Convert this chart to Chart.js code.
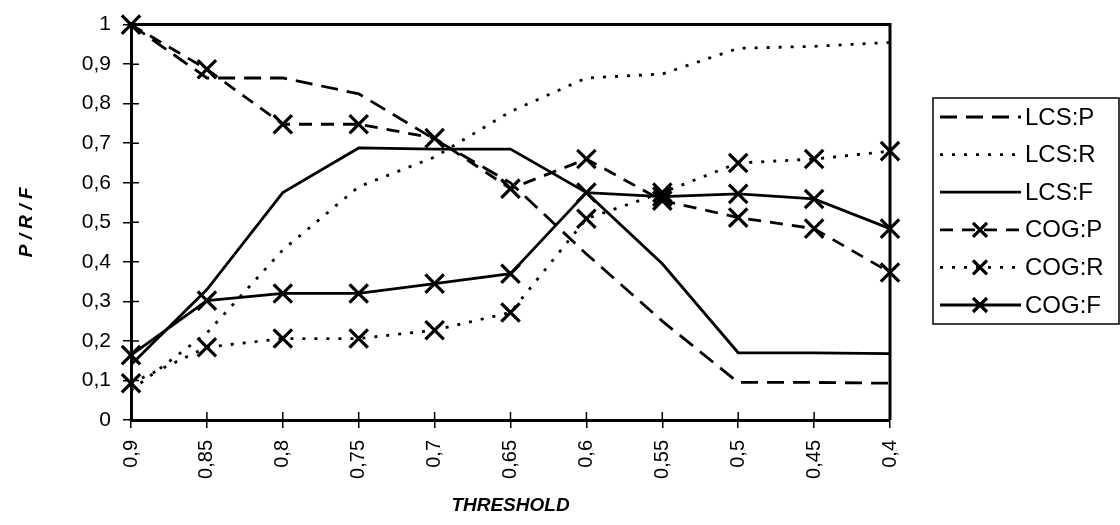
<!DOCTYPE html>
<html>
<head>
<meta charset="utf-8">
<script src="https://cdn.jsdelivr.net/npm/chart.js@4"></script>
<style>html,body{margin:0;background:#fff}</style>
</head>
<body>
<canvas id="prfChart" width="1120" height="525"></canvas>
<script>
const thresholds = ['0,9', '0,85', '0,8', '0,75', '0,7', '0,65', '0,6', '0,55', '0,5', '0,45', '0,4'];
const lcsP = [1.0, 0.865, 0.865, 0.825, 0.71, 0.6, 0.42, 0.25, 0.095, 0.095, 0.093];
const lcsR = [0.075, 0.22, 0.43, 0.59, 0.665, 0.78, 0.865, 0.875, 0.94, 0.945, 0.955];
const lcsF = [0.14, 0.33, 0.575, 0.688, 0.685, 0.685, 0.575, 0.395, 0.17, 0.17, 0.168];
const cogP = [1.0, 0.887, 0.748, 0.748, 0.713, 0.585, 0.66, 0.555, 0.512, 0.484, 0.373];
const cogR = [0.093, 0.184, 0.206, 0.206, 0.227, 0.272, 0.509, 0.575, 0.65, 0.66, 0.68];
const cogF = [0.164, 0.302, 0.32, 0.32, 0.345, 0.37, 0.575, 0.565, 0.572, 0.559, 0.484];

const FONT = '"Liberation Sans", Arial, sans-serif';
Chart.defaults.font.family = FONT;
Chart.defaults.color = '#000';

function series(label, data, dash, marker) {
    return {
        label: label,
        data: data,
        borderColor: '#000',
        backgroundColor: '#000',
        borderWidth: 2.8,
        borderDash: dash,
        fill: false,
        tension: 0,
        pointStyle: marker ? 'crossRot' : false,
        pointRadius: marker ? 13 : 0,
        pointBorderWidth: 3.2,
        pointBorderColor: '#000',
        clip: false,
    };
}

// frame on top/right, plus the inner half of each tick mark
const framePlugin = {
    id: 'frame',
    beforeDatasetsDraw(chart) {
        const {ctx, chartArea: a, scales} = chart;
        ctx.save();
        ctx.strokeStyle = '#000';
        ctx.lineWidth = 3;
        ctx.beginPath();
        ctx.moveTo(a.left, a.top);
        ctx.lineTo(a.right, a.top);
        ctx.lineTo(a.right, a.bottom);
        ctx.stroke();
        ctx.lineWidth = 1.5;
        ctx.beginPath();
        scales.y.ticks.forEach((t, i) => {
            const y = scales.y.getPixelForTick(i);
            ctx.moveTo(a.left, y);
            ctx.lineTo(a.left + 8, y);
        });
        scales.x.ticks.forEach((t, i) => {
            const x = scales.x.getPixelForTick(i);
            ctx.moveTo(x, a.bottom);
            ctx.lineTo(x, a.bottom - 8);
        });
        ctx.stroke();
        ctx.restore();
    }
};

// boxed legend with line samples on the right
const legendPlugin = {
    id: 'sideLegend',
    afterDraw(chart) {
        const ctx = chart.ctx;
        const box = {x: 933, y: 98, w: 186, h: 226};
        ctx.save();
        ctx.strokeStyle = '#000';
        ctx.lineWidth = 1.5;
        ctx.strokeRect(box.x, box.y, box.w, box.h);
        ctx.font = '24px ' + FONT;
        ctx.textBaseline = 'middle';
        ctx.fillStyle = '#000';
        chart.data.datasets.forEach((ds, i) => {
            const y = box.y + 19 + i * 37.6;
            ctx.lineWidth = ds.borderWidth;
            ctx.setLineDash(ds.borderDash || []);
            ctx.beginPath();
            ctx.moveTo(940, y);
            ctx.lineTo(1021, y);
            ctx.stroke();
            ctx.setLineDash([]);
            if (ds.pointStyle) {
                ctx.lineWidth = 3.2;
                ctx.beginPath();
                ctx.moveTo(973, y - 7); ctx.lineTo(987, y + 7);
                ctx.moveTo(987, y - 7); ctx.lineTo(973, y + 7);
                ctx.stroke();
            }
            ctx.fillText(ds.label, 1025, y + 1);
        });
        ctx.restore();
    }
};

const ctx = document.getElementById('prfChart').getContext('2d');
const prfChart = new Chart(ctx, {
    type: 'line',
    data: {
        labels: thresholds,
        datasets: [
            series('LCS:P', lcsP, [17, 9], false),
            series('LCS:R', lcsR, [3, 9], false),
            series('LCS:F', lcsF, [], false),
            series('COG:P', cogP, [13, 9], true),
            series('COG:R', cogR, [3, 9], true),
            series('COG:F', cogF, [], true),
        ],
    },
    options: {
        responsive: false,
        animation: false,
        devicePixelRatio: 1,
        layout: {padding: {top: 23, right: 230, left: 0, bottom: 0}},
        plugins: {legend: {display: false}, tooltip: {enabled: false}},
        scales: {
            x: {
                type: 'category',
                offset: false,
                grid: {drawOnChartArea: false, tickLength: 8, color: '#000', lineWidth: 1.5},
                border: {color: '#000', width: 3},
                ticks: {minRotation: 90, maxRotation: 90, autoSkip: false, padding: 12, font: {size: 20}, color: '#000'},
                title: {
                    display: true,
                    text: 'THRESHOLD',
                    font: {size: 19, weight: 'bold', style: 'italic'},
                    padding: {top: 0, bottom: 8},
                },
                afterFit: s => { s.height = 105; },
            },
            y: {
                min: 0,
                max: 1,
                grid: {drawOnChartArea: false, tickLength: 8, color: '#000', lineWidth: 1.5},
                border: {color: '#000', width: 3},
                ticks: {
                    stepSize: 0.1,
                    padding: 12,
                    font: {size: 21},
                    color: '#000',
                    callback: v => String(Math.round(v * 10) / 10).replace('.', ','),
                },
                title: {
                    display: true,
                    text: 'P / R / F',
                    font: {size: 19, weight: 'bold', style: 'italic'},
                    padding: {top: 15, bottom: 0},
                },
                afterFit: s => { s.width = 131; },
            },
        },
    },
    plugins: [framePlugin, legendPlugin],
});
</script>
</body>
</html>
